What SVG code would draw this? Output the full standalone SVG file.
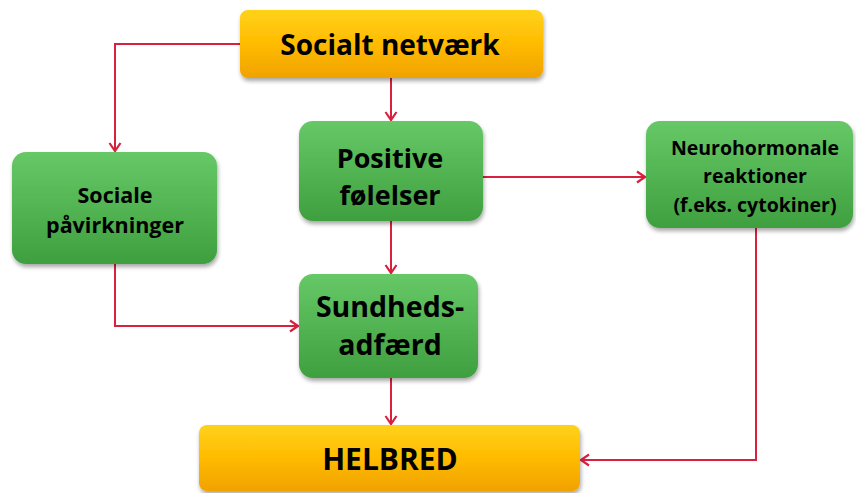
<svg xmlns="http://www.w3.org/2000/svg" width="856" height="493" viewBox="0 0 856 493">
<defs>
<linearGradient id="og" x1="0" y1="0" x2="0" y2="1">
<stop offset="0" stop-color="#ffd21a"/><stop offset="0.5" stop-color="#ffbb00"/><stop offset="1" stop-color="#f0a200"/>
</linearGradient>
<linearGradient id="gg" x1="0" y1="0" x2="0" y2="1">
<stop offset="0" stop-color="#66c866"/><stop offset="0.5" stop-color="#52b452"/><stop offset="1" stop-color="#3f9f3f"/>
</linearGradient>
<filter id="sh" x="-10%" y="-10%" width="120%" height="130%">
<feGaussianBlur in="SourceAlpha" stdDeviation="2"/><feOffset dx="1" dy="3" result="b"/>
<feComponentTransfer><feFuncA type="linear" slope="0.35"/></feComponentTransfer>
<feMerge><feMergeNode/><feMergeNode in="SourceGraphic"/></feMerge>
</filter>
<marker id="ar" markerWidth="14" markerHeight="14" viewBox="0 0 14 14" refX="12" refY="7" orient="auto" markerUnits="userSpaceOnUse">
<polyline points="4,1.5 12,7 4,12.5" fill="none" stroke="#d8203f" stroke-width="2.2"/>
</marker>
</defs>
<style>
.o{fill:url(#og);filter:url(#sh)}
.g{fill:url(#gg);filter:url(#sh)}
.t{font-family:"Open Sans","Noto Sans",sans-serif;font-weight:bold;fill:#000;text-anchor:middle}
.c{fill:none;stroke:#d8203f;stroke-width:2;marker-end:url(#ar)}
</style>
<g id="connectors">
<polyline class="c" points="240,44 115,44 115,151"/>
<polyline class="c" points="391,78 391,120"/>
<polyline class="c" points="483,177 645,177"/>
<polyline class="c" points="391,221 391,273"/>
<polyline class="c" points="115,264 115,326 298,326"/>
<polyline class="c" points="391,378 391,424"/>
<polyline class="c" points="756,228 756,460 581,460"/>
</g>
<g id="socialt-netvaerk">
<rect class="o" x="240" y="10" width="303" height="68" rx="8"/>
<text class="t" x="390" y="55" font-size="28">Socialt netværk</text>
</g>
<g id="sociale-pavirkninger">
<rect class="g" x="12" y="152" width="205" height="112" rx="14"/>
<text class="t" x="115" y="203" font-size="21.5">Sociale</text>
<text class="t" x="115" y="233" font-size="21.5">påvirkninger</text>
</g>
<g id="positive-folelser">
<rect class="g" x="299" y="121" width="184" height="100" rx="14"/>
<text class="t" x="390" y="168" font-size="27">Positive</text>
<text class="t" x="390" y="205" font-size="27">følelser</text>
</g>
<g id="neurohormonale">
<rect class="g" x="646" y="121" width="207" height="107" rx="14"/>
<text class="t" x="755" y="155" font-size="19.5">Neurohormonale</text>
<text class="t" x="755" y="183" font-size="19.5">reaktioner</text>
<text class="t" x="755" y="212" font-size="19.5">(f.eks. cytokiner)</text>
</g>
<g id="sundhedsadfaerd">
<rect class="g" x="299" y="274" width="179" height="104" rx="14"/>
<text class="t" x="390" y="317" font-size="28.5">Sundheds-</text>
<text class="t" x="390" y="355" font-size="28.5">adfærd</text>
</g>
<g id="helbred">
<rect class="o" x="199" y="425" width="381" height="66" rx="8"/>
<text class="t" x="390" y="470" font-size="30">HELBRED</text>
</g>
</svg>
